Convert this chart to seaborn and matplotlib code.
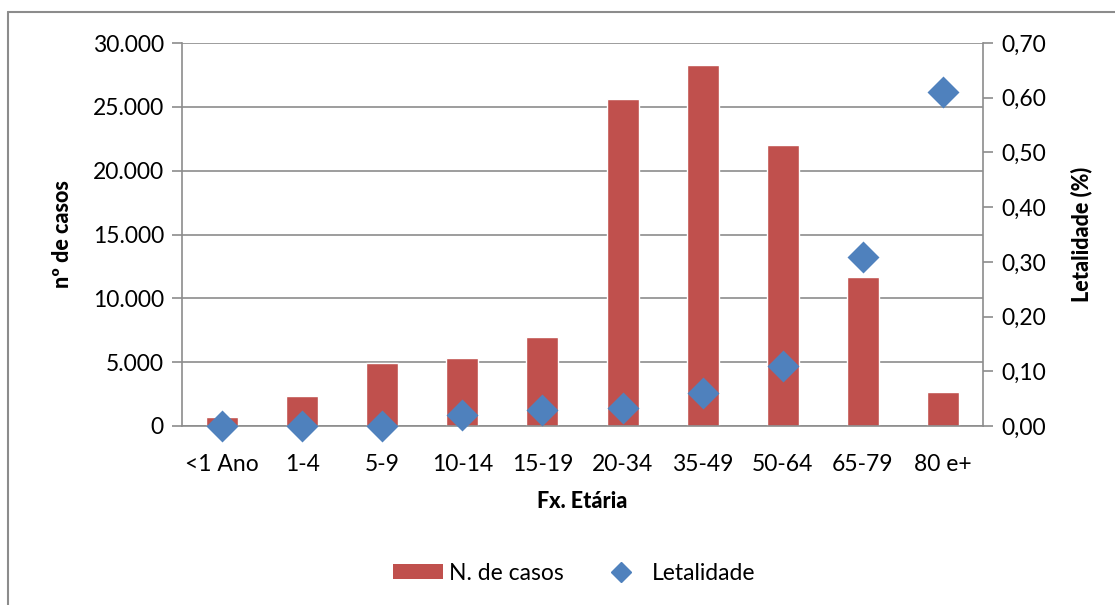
import matplotlib
matplotlib.use("Agg")
import matplotlib.pyplot as plt
import seaborn as sns
import pandas as pd
from matplotlib.patches import Patch
from matplotlib.lines import Line2D

categories = ["<1 Ano", "1-4", "5-9", "10-14", "15-19", "20-34", "35-49", "50-64", "65-79", "80 e+"]
casos = [700, 2350, 4930, 5320, 6970, 25600, 28270, 22000, 11670, 2660]
letalidade = [0.0, 0.0, 0.0, 0.02, 0.029, 0.033, 0.06, 0.11, 0.309, 0.61]
left_ticks = [0, 5000, 10000, 15000, 20000, 25000, 30000]
left_labels = ["0", "5.000", "10.000", "15.000", "20.000", "25.000", "30.000"]
right_ticks = [0.0, 0.1, 0.2, 0.3, 0.4, 0.5, 0.6, 0.7]
right_labels = ["0,00", "0,10", "0,20", "0,30", "0,40", "0,50", "0,60", "0,70"]

df = pd.DataFrame({"Fx": categories, "casos": casos, "let": letalidade})

sns.set_style("white")
plt.rcParams["font.family"] = ["Lato", "DejaVu Sans"]
plt.rcParams["text.color"] = "black"
plt.rcParams["axes.labelcolor"] = "black"
plt.rcParams["xtick.color"] = "black"
plt.rcParams["ytick.color"] = "black"

BAR = "#C0504D"
DIA = "#4F81BD"
GRID = "#8C8C8C"
W, H = 1115, 605
FS = 16.5
LFS = 15.5

fig = plt.figure(figsize=(11.15, 6.05), dpi=100)
ax = fig.add_axes([182 / W, 1 - 426 / H, (983 - 182) / W, (426 - 43) / H])

sns.barplot(data=df, x="Fx", y="casos", color=BAR, width=0.4, ax=ax,
            saturation=1, zorder=2)
ax.set_xlim(-0.5, 9.5)
ax.set_ylim(0, 30000)
ax.set_yticks(left_ticks)
ax.set_yticklabels(left_labels, fontsize=FS)
ax.yaxis.grid(True, color=GRID, linewidth=1.2, zorder=0)
ax.set_axisbelow(True)
ax.tick_params(axis="y", direction="out", length=7, width=1.2, color=GRID, pad=6,
               labelcolor="black")
ax.set_xticks(range(len(categories)))
ax.set_xticklabels(categories, fontsize=FS)
ax.tick_params(axis="x", which="major", length=0, pad=20, labelcolor="black")
ax.set_xticks([i - 0.5 for i in range(len(categories) + 1)], minor=True)
ax.tick_params(axis="x", which="minor", direction="out", length=7, width=1.2, color=GRID)
ax.set_xlabel("Fx. Etária", fontsize=LFS, fontweight="black", labelpad=12, color="black")
ax.set_ylabel("nº de casos", fontsize=LFS, fontweight="black", labelpad=14, color="black")
for s in ["top", "right"]:
    ax.spines[s].set_visible(False)
for s in ["left", "bottom"]:
    ax.spines[s].set_color(GRID)
    ax.spines[s].set_linewidth(1.2)

ax2 = ax.twinx()
sns.pointplot(data=df, x="Fx", y="let", color=DIA, markers="D", linestyle="none",
              markersize=14, ax=ax2, errorbar=None, zorder=3)
ax2.set_xlim(-0.5, 9.5)
ax2.set_ylim(0, 0.7)
ax2.set_yticks(right_ticks)
ax2.set_yticklabels(right_labels, fontsize=FS)
ax2.tick_params(axis="y", direction="out", length=7, width=1.2, color=GRID, pad=6,
                labelcolor="black")
ax2.set_ylabel("Letalidade (%)", fontsize=LFS, fontweight="black", labelpad=18, color="black")
for s in ["top", "left", "bottom"]:
    ax2.spines[s].set_visible(False)
ax2.spines["right"].set_color(GRID)
ax2.spines["right"].set_linewidth(1.2)
for c in ax2.collections:
    c.set_clip_on(False)
for l in ax2.lines:
    l.set_clip_on(False)

handles = [Patch(facecolor=BAR, edgecolor="none"),
           Line2D([], [], marker="D", color=DIA, linestyle="none", markersize=10)]
fig.legend(handles, ["N. de casos", "Letalidade"], loc="center",
           bbox_to_anchor=(574 / W, 1 - 573 / H), ncol=2, frameon=False,
           fontsize=FS, handlelength=2.2, handleheight=0.6, handletextpad=0.25,
           columnspacing=1.4)

# outer chart border (left and top visible)
fig.add_artist(Line2D([8 / W, 8 / W], [0, 1 - 12 / H], color="#8C8C8C", linewidth=1.5,
                      transform=fig.transFigure))
fig.add_artist(Line2D([8 / W, 1], [1 - 12 / H, 1 - 12 / H], color="#8C8C8C", linewidth=1.5,
                      transform=fig.transFigure))

fig.savefig("out.png", dpi=100)
